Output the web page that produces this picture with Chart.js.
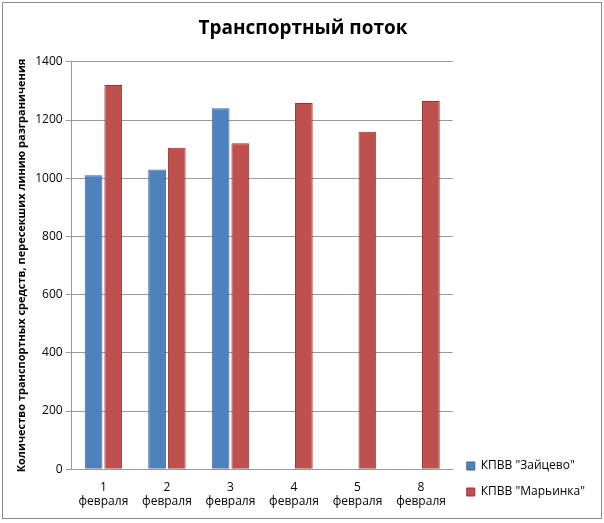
<!DOCTYPE html>
<html>
<head>
<meta charset="utf-8">
<script src="https://cdn.jsdelivr.net/npm/chart.js@4/dist/chart.umd.min.js"></script>
<style>
    body { margin: 0; background: #fff; }
    #wrap { position: absolute; left: 2px; top: 2px; width: 598px; height: 515px; border: 1px solid #8a8a8a; }
</style>
</head>
<body>
<div id="wrap"><canvas id="myChart" width="598" height="515"></canvas></div>
<script>
const categories = [["1", "февраля"], ["2", "февраля"], ["3", "февраля"], ["4", "февраля"], ["5", "февраля"], ["8", "февраля"]];
const zaitsevo = [1010, 1030, 1240, 0, 0, 0];
const marinka = [1320, 1105, 1120, 1258, 1160, 1265];
const yTicks = [0, 200, 400, 600, 800, 1000, 1200, 1400];

const ctx = document.getElementById("myChart");
const myChart = new Chart(ctx, {
    type: "bar",
    data: {
        labels: categories,
        datasets: [
            {
                label: 'КПВВ "Зайцево"',
                data: zaitsevo,
                backgroundColor: "#4f81bd",
                borderColor: "#3a6699",
                borderWidth: 1,
            },
            {
                label: 'КПВВ "Марьинка"',
                data: marinka,
                backgroundColor: "#c0504d",
                borderColor: "#943634",
                borderWidth: 1,
            },
        ],
    },
    options: {
        responsive: false,
        animation: false,
        layout: { padding: { left: 8, right: 6, top: 8, bottom: 6 } },
        datasets: { bar: { categoryPercentage: 0.62, barPercentage: 0.9 } },
        plugins: {
            title: {
                display: true,
                text: "Транспортный поток",
                color: "#000",
                font: { family: "Open Sans", size: 19, weight: "bold" },
                padding: { top: 6, bottom: 22 },
            },
            legend: {
                position: "right",
                align: "end",
                labels: {
                    boxWidth: 8,
                    boxHeight: 8,
                    padding: 14,
                    color: "#000",
                    font: { family: "Open Sans", size: 12 },
                },
            },
            tooltip: { enabled: false },
        },
        scales: {
            x: {
                grid: { display: false },
                border: { color: "#999" },
                ticks: { color: "#000", maxRotation: 0, font: { family: "Open Sans", size: 12 } },
            },
            y: {
                min: 0,
                max: 1400,
                afterBuildTicks: (axis) => { axis.ticks = yTicks.map((v) => ({ value: v })); },
                grid: { color: "#999", tickLength: 6 },
                border: { color: "#999" },
                ticks: { color: "#000", callback: (v) => String(v), font: { family: "Open Sans", size: 12 } },
                title: {
                    display: true,
                    text: "Количество транспортных средств, пересекших линию разграничения",
                    color: "#000",
                    font: { family: "Open Sans", size: 11, weight: "bold" },
                },
            },
        },
    },
});
</script>
</body>
</html>
